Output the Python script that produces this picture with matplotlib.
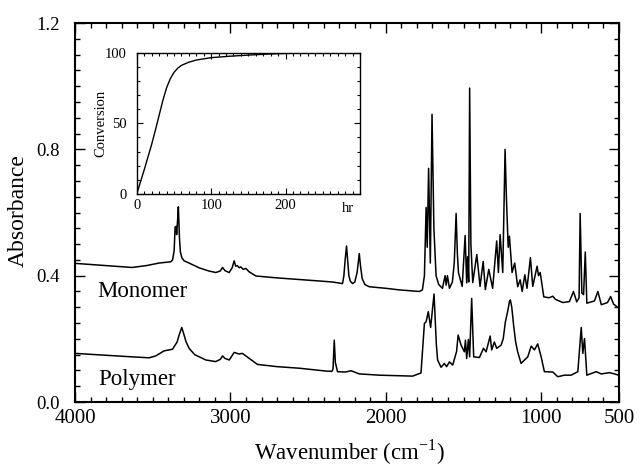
import matplotlib
matplotlib.use("Agg")
import matplotlib.pyplot as plt
from matplotlib.ticker import MultipleLocator, FixedLocator

plt.rcParams["font.family"] = ["Liberation Serif", "DejaVu Serif"]
plt.rcParams["mathtext.fontset"] = "custom"
plt.rcParams["mathtext.rm"] = "Liberation Serif"

# IR spectrum of the monomer (wavenumber in cm-1, absorbance)
monomer_wn = [4000, 3800, 3633, 3540, 3459, 3384, 3372, 3362, 3356, 3350,
              3346, 3340, 3335, 3328, 3322, 3312, 3298, 3266, 3202, 3140,
              3094, 3065, 3051, 3035, 3008, 2989, 2976, 2966, 2955, 2944,
              2933, 2918, 2901, 2879, 2836, 2700, 2557, 2450, 2343, 2279,
              2270, 2262, 2253, 2246, 2238, 2228, 2214, 2200, 2185, 2171,
              2163, 2152, 2135, 2107, 2000, 1913, 1785, 1765, 1752, 1741,
              1734, 1725, 1714, 1703, 1691, 1677, 1660, 1636, 1619, 1612,
              1604, 1591, 1572, 1560, 1548, 1540, 1533, 1509, 1490, 1480,
              1474, 1467, 1461, 1453, 1441, 1415, 1394, 1374, 1360, 1338,
              1313, 1287, 1276, 1265, 1248, 1233, 1224, 1213, 1205, 1188,
              1171, 1152, 1136, 1123, 1106, 1092, 1070, 1055, 1027, 1018,
              1007, 984, 950, 926, 909, 862, 819, 793, 772, 757,
              750, 739, 728, 717, 707, 658, 636, 614, 574, 554,
              535, 503]
monomer_abs = [0.439, 0.432, 0.426, 0.432, 0.440, 0.444, 0.450, 0.480, 0.554, 0.556,
               0.530, 0.575, 0.618, 0.520, 0.475, 0.456, 0.447, 0.440, 0.425, 0.415,
               0.410, 0.415, 0.426, 0.416, 0.410, 0.425, 0.447, 0.430, 0.432, 0.425,
               0.428, 0.420, 0.423, 0.412, 0.399, 0.393, 0.388, 0.384, 0.380, 0.375,
               0.400, 0.450, 0.494, 0.450, 0.400, 0.382, 0.375, 0.380, 0.410, 0.470,
               0.430, 0.390, 0.372, 0.365, 0.360, 0.355, 0.350, 0.355, 0.400, 0.616,
               0.490, 0.740, 0.440, 0.911, 0.550, 0.400, 0.372, 0.360, 0.400, 0.370,
               0.400, 0.360, 0.380, 0.440, 0.597, 0.470, 0.410, 0.366, 0.527, 0.377,
               0.460, 0.380, 0.994, 0.500, 0.378, 0.467, 0.366, 0.445, 0.356, 0.420,
               0.360, 0.510, 0.410, 0.530, 0.410, 0.800, 0.640, 0.490, 0.525, 0.410,
               0.440, 0.365, 0.387, 0.350, 0.403, 0.360, 0.457, 0.366, 0.430, 0.400,
               0.410, 0.333, 0.330, 0.335, 0.325, 0.315, 0.318, 0.350, 0.317, 0.330,
               0.597, 0.345, 0.340, 0.475, 0.313, 0.320, 0.350, 0.308, 0.315, 0.334,
               0.310, 0.298]

# IR spectrum of the polymer
polymer_wn = [4000, 3800, 3633, 3523, 3480, 3427, 3373, 3343, 3330, 3313,
              3300, 3285, 3266, 3230, 3158, 3094, 3065, 3051, 3035, 3008,
              2976, 2944, 2923, 2879, 2826, 2700, 2557, 2385, 2347, 2340,
              2332, 2325, 2311, 2260, 2224, 2171, 2042, 1900, 1828, 1774,
              1752, 1741, 1727, 1712, 1690, 1675, 1667, 1645, 1624, 1609,
              1591, 1570, 1545, 1535, 1516, 1495, 1488, 1480, 1469, 1461,
              1448, 1435, 1398, 1372, 1355, 1329, 1319, 1302, 1287, 1259,
              1245, 1231, 1215, 1205, 1199, 1190, 1177, 1165, 1152, 1130,
              1108, 1087, 1065, 1044, 1023, 1001, 980, 926, 894, 851,
              808, 765, 743, 733, 722, 707, 647, 614, 561, 529,
              503]
polymer_abs = [0.154, 0.148, 0.143, 0.140, 0.146, 0.162, 0.167, 0.190, 0.212, 0.236,
               0.215, 0.190, 0.170, 0.150, 0.133, 0.128, 0.135, 0.146, 0.138, 0.133,
               0.157, 0.152, 0.154, 0.138, 0.119, 0.112, 0.107, 0.098, 0.097, 0.105,
               0.196, 0.125, 0.096, 0.095, 0.099, 0.089, 0.085, 0.083, 0.082, 0.092,
               0.249, 0.254, 0.286, 0.236, 0.342, 0.180, 0.133, 0.110, 0.122, 0.112,
               0.127, 0.117, 0.160, 0.212, 0.180, 0.159, 0.196, 0.138, 0.198, 0.143,
               0.328, 0.143, 0.141, 0.170, 0.159, 0.209, 0.165, 0.190, 0.170, 0.180,
               0.200, 0.254, 0.290, 0.318, 0.323, 0.300, 0.238, 0.190, 0.159, 0.122,
               0.133, 0.143, 0.177, 0.165, 0.184, 0.143, 0.096, 0.095, 0.080, 0.085,
               0.085, 0.096, 0.236, 0.154, 0.201, 0.085, 0.096, 0.089, 0.093, 0.089,
               0.085]

# conversion vs time (inset)
time_hr = [0, 5, 10, 15, 20, 25, 30, 35, 40, 45, 50, 55, 60, 70, 80, 100, 125, 150, 175, 200, 250, 300]
conversion = [0, 8.5, 17, 26, 35, 45, 55.5, 66, 75, 81.5, 86, 89, 91, 93.3, 94.8, 96.5, 97.5, 98.3, 99, 99.5, 100, 100]

fig = plt.figure(figsize=(6.41, 4.68), dpi=100)
ax = fig.add_axes([0.117, 0.141, 0.8487, 0.8098])

ax.plot(monomer_wn, monomer_abs, color="black", lw=1.1)
ax.plot(polymer_wn, polymer_abs, color="black", lw=1.1)
ax.set_xlim(4000, 500)
ax.set_ylim(0, 1.2)

for s in ax.spines.values():
    s.set_linewidth(1.5)

ax.xaxis.set_major_locator(FixedLocator([4000, 3000, 2000, 1000, 500]))
ax.set_xticklabels(["4000", "3000", "2000", "1000", "500"])
ax.xaxis.set_minor_locator(MultipleLocator(100))
ax.yaxis.set_major_locator(FixedLocator([0.0, 0.4, 0.8, 1.2]))
ax.set_yticklabels(["0.0", "0.4", "0.8", "1.2"])
ax.yaxis.set_minor_locator(MultipleLocator(0.05))
ax.tick_params(which="both", direction="in", top=True, right=True, width=1)
ax.tick_params(which="major", length=7)
ax.tick_params(which="minor", length=3.5)
ax.tick_params(axis="x", which="major", labelsize=15, pad=5)
ax.tick_params(axis="y", which="major", labelsize=13.5, pad=11)

ax.text(3858, 0.332, "Monomer", fontsize=16.5, ha="left", va="baseline")
ax.text(3852, 0.054, "Polymer", fontsize=16.5, ha="left", va="baseline")

fig.text(0.545, 0.034, r"Wavenumber (cm$^{\mathrm{-1}}$)", fontsize=16.5,
         ha="center", va="center")
fig.text(0.028, 0.551, "Absorbance", fontsize=17, rotation=90,
         ha="center", va="center")

# inset: conversion vs time
ins = fig.add_axes([0.2133, 0.5855, 0.3484, 0.3019])
ins.plot(time_hr, conversion, color="black", lw=1.0)
ins.set_xlim(0, 300)
ins.set_ylim(0, 100)
ins.xaxis.set_major_locator(FixedLocator([0, 100, 200]))
ins.xaxis.set_minor_locator(MultipleLocator(10))
ins.yaxis.set_major_locator(FixedLocator([0, 50, 100]))
ins.yaxis.set_minor_locator(MultipleLocator(10))
ins.tick_params(which="both", direction="in", top=True, right=True, width=0.8,
                labelsize=10.5)
ins.tick_params(which="major", length=4)
ins.tick_params(which="minor", length=2.5)
ins.tick_params(axis="y", pad=7)
ins.tick_params(axis="x", pad=3.5)
for s in ins.spines.values():
    s.set_linewidth(1.0)
fig.text(0.1576, 0.7372, "Conversion", fontsize=10.5, rotation=90,
         ha="center", va="center")
fig.text(347.7 / 641, 1 - 208 / 468, "hr", fontsize=10.5, ha="center", va="center")

fig.savefig("out.png", dpi=100)
